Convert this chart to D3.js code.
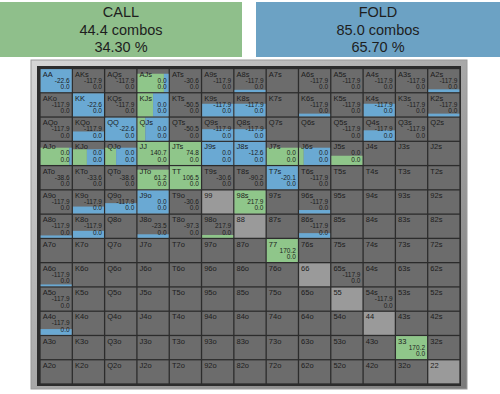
<!DOCTYPE html>
<html>
<head>
<meta charset="utf-8">
<script src="https://cdn.jsdelivr.net/npm/d3@7"></script>
<style>
  body { margin: 0; background: #fff; }
  svg { display: block; font-family: "Liberation Sans", Arial, sans-serif; }
</style>
</head>
<body>
<svg id="chart" width="500" height="394"></svg>
<script>
// --- data ---
var ranks = ["A","K","Q","J","T","9","8","7","6","5","4","3","2"];

var actionNames = ["CALL", "FOLD"];
var actionCombos = [44.4, 85.0];
var actionPct = [34.30, 65.70];

// hands that are in the range: bar height = weight, green share = call freq
var rangeHands = ["AA","AJs","A8s","A2s","KK","KJs","K9s","K8s","K6s","K4s","K2s",
  "KQo","QQ","QJs","Q9s","Q8s","Q4s","AJo","KJo","QJo","JJ","JTs","J9s","J8s","J7s","J6s","J5s",
  "JTo","TT","T7s","K9o","Q9o","J9o","98s","96s","A8o","K8o","J8o","98o","86s","77","A6o","A4o","33"];
var rangeWeight = [1,0.8,0.1,0.12,1,1,0.55,0.55,0.12,0.55,0.12,
  0.4,1,1,0.5,0.5,0.45,0.75,0.68,0.75,1,1,1,1,0.75,0.75,0.4,
  0.85,1,1,0.3,0.45,1,1,0.15,0.1,0.3,0.15,0.12,0.2,1,0.08,0.25,1];
var callFreq = [0,0.85,0,0,0,0.5,0,0,0,0,0,
  0,0,0.25,0,0,0,0.92,0.45,0.35,1,1,0,0,1,0.15,1,
  1,1,0,0,0,0,1,0,0,0,0,1,0,1,0,0,1];

// EV numbers printed in the cells (call EV, fold EV)
var evHands = ["AA","AKs","AQs","AJs","ATs","A9s","A8s","A6s","A5s","A4s","A3s","A2s",
  "AKo","KK","KQs","KJs","KTs","K9s","K8s","K6s","K5s","K4s","K3s","K2s",
  "AQo","KQo","QQ","QJs","QTs","Q9s","Q8s","Q5s","Q4s","Q3s",
  "AJo","KJo","QJo","JJ","JTs","J9s","J8s","J7s","J6s","J5s",
  "ATo","KTo","QTo","JTo","TT","T9s","T8s","T7s","T6s",
  "A9o","K9o","Q9o","J9o","T9o","98s","96s",
  "A8o","K8o","J8o","T8o","98o","86s","77","A6o","65s","A5o","54s","A4o","33"];
var evCall = [-22.6,-117.9,-117.9,0.0,-30.6,-117.9,-117.9,-117.9,-117.9,-117.9,-117.9,-117.9,
  -117.9,-22.6,-117.9,0.0,-50.5,-117.9,-117.9,-117.9,-117.9,-117.9,-117.9,-117.9,
  -117.9,-117.9,-22.6,0.0,-50.5,-117.9,-117.9,-117.9,-117.9,-117.9,
  0.0,0.0,0.0,140.7,74.8,0.0,-12.6,0.0,0.0,0.0,
  -38.6,-33.6,-38.6,61.2,106.5,-30.6,-90.2,-20.1,-117.9,
  -117.9,-117.9,-117.9,0.0,-30.6,217.9,-117.9,
  -117.9,-117.9,-23.5,-97.3,217.9,-117.9,170.2,-117.9,-117.9,-117.9,-117.9,-117.9,170.2];
var evFold = evHands.map(function(){ return 0.0; });

// pairs blocked by the board (light gray)
var deadPairs = ["99","88","66","55","44","22"];

var green = "#8fc68a", blue = "#6aa9d3";

var svg = d3.select("#chart");

// ---- header boxes ----
var boxX = d3.scaleOrdinal().domain(actionNames).range([0, 256]);
var head = svg.selectAll("g.head")
  .data(actionNames)
  .enter().append("g")
  .attr("class", "head")
  .attr("transform", function(d){ return "translate(" + boxX(d) + ",2)"; });
head.append("rect")
  .attr("width", function(d, i){ return i == 0 ? 242 : 244; })
  .attr("height", 55)
  .attr("fill", function(d, i){ return i == 0 ? "#8fbf8b" : "#6ca2c4"; });
head.each(function(d, i){
  var g = d3.select(this);
  var cx = i == 0 ? 121 : 122;
  var lines = [d, actionCombos[i].toFixed(1) + " combos", actionPct[i].toFixed(2) + " %"];
  g.selectAll("text").data(lines).enter().append("text")
    .attr("x", cx)
    .attr("y", function(t, k){ return 15 + k * 17.5; })
    .attr("text-anchor", "middle")
    .attr("font-size", 14.5)
    .attr("fill", "#1e1e1e")
    .text(function(t){ return t; });
});

// ---- frame ----
var grad = svg.append("defs").append("linearGradient")
  .attr("id", "bevel").attr("x1", 0).attr("y1", 0).attr("x2", 1).attr("y2", 1);
grad.append("stop").attr("offset", "0%").attr("stop-color", "#d6d6d6");
grad.append("stop").attr("offset", "100%").attr("stop-color", "#7a7a7a");
svg.append("rect").attr("x", 31).attr("y", 60).attr("width", 436).attr("height", 329)
  .attr("fill", "url(#bevel)").attr("stroke", "#9a9a9a");
svg.append("rect").attr("x", 37).attr("y", 66).attr("width", 424).attr("height", 320)
  .attr("fill", "#2c2c2c");

// ---- grid ----
var x = d3.scaleBand().domain(d3.range(13)).range([40, 460]);
var y = d3.scaleBand().domain(d3.range(13)).range([68.5, 384]);
var cw = x.bandwidth() - 1.3, ch = y.bandwidth() - 1.3;
var hScale = d3.scaleLinear().domain([0, 1]).range([0, ch]);

var cells = [];
ranks.forEach(function(r, i){
  ranks.forEach(function(c, j){
    var name = i == j ? r + c : (j > i ? r + c + "s" : c + r + "o");
    cells.push({ name: name, row: i, col: j });
  });
});

var g = svg.selectAll("g.cell")
  .data(cells)
  .enter().append("g")
  .attr("class", "cell")
  .attr("transform", function(d){ return "translate(" + (x(d.col) + 0.65) + "," + (y(d.row) + 0.65) + ")"; });

g.append("rect")
  .attr("width", cw).attr("height", ch)
  .attr("fill", function(d){ return deadPairs.indexOf(d.name) >= 0 ? "#9a9a9a" : "#6c6c6c"; });

// range bars
g.each(function(d){
  var k = rangeHands.indexOf(d.name);
  if (k < 0) return;
  var h = hScale(rangeWeight[k]);
  var wCall = cw * callFreq[k];
  var cell = d3.select(this);
  if (wCall > 0)
    cell.append("rect").attr("x", 0).attr("y", ch - h).attr("width", wCall).attr("height", h).attr("fill", green);
  if (wCall < cw)
    cell.append("rect").attr("x", wCall).attr("y", ch - h).attr("width", cw - wCall).attr("height", h).attr("fill", blue);
});

g.append("text")
  .attr("x", 2).attr("y", 7.5)
  .attr("font-size", 7.5)
  .attr("fill", "#1c1c1c")
  .text(function(d){ return d.name; });

g.each(function(d){
  var k = evHands.indexOf(d.name);
  if (k < 0) return;
  var cell = d3.select(this);
  [evCall[k], evFold[k]].forEach(function(v, n){
    cell.append("text")
      .attr("x", cw - 2).attr("y", 13.5 + n * 6.5)
      .attr("text-anchor", "end")
      .attr("font-size", 6.5)
      .attr("fill", "#1c1c1c")
      .text(v.toFixed(1));
  });
});
</script>
</body>
</html>
